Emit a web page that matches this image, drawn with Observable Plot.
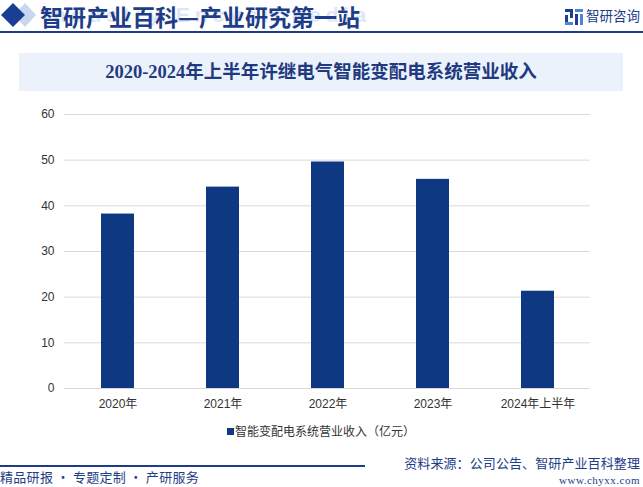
<!DOCTYPE html>
<html>
<head>
<meta charset="utf-8">
<script src="https://cdn.jsdelivr.net/npm/d3@7"></script>
<script src="https://cdn.jsdelivr.net/npm/@observablehq/plot@0.6"></script>
<style>
  html, body { margin: 0; padding: 0; background: #fff; }
  #page { position: relative; width: 643px; height: 487px; overflow: hidden; background: #fff;
          font-family: "Liberation Sans", Arial, "Noto Sans CJK SC", sans-serif; }
  .abs { position: absolute; white-space: nowrap; }
</style>
</head>
<body>
<div id="page">
  <!-- header -->
  <svg class="abs" style="left:0;top:0" width="40" height="32">
    <polygon points="25,3 36,15 25,27 14,15" fill="#c9d6ef"/>
    <polygon points="13,3 25,15 13,27 1,15" fill="#1a3f92"/>
  </svg>
  <div class="abs" style="left:42px;top:3px;font:bold 21px 'Liberation Sans',Arial,sans-serif;color:#dde7f7;letter-spacing:5px;">industry Encyclopedia</div>
  <div class="abs" style="left:40px;top:0px;font-family:'Noto Sans CJK SC';font-weight:bold;font-size:23px;line-height:32px;color:#1d3d88;">智研产业百科—产业研究第一站</div>
  <svg class="abs" style="left:565px;top:9px" width="19" height="16">
    <rect x="0" y="0" width="8" height="3" fill="#1a3f92"/>
    <rect x="5" y="0" width="3" height="9" fill="#1a3f92"/>
    <rect x="0" y="6" width="3" height="10" fill="#1a3f92"/>
    <rect x="0" y="13" width="8" height="3" fill="#4d86d6"/>
    <rect x="10" y="0" width="8" height="3" fill="#4d86d6"/>
    <rect x="10" y="5" width="3" height="11" fill="#1a3f92"/>
    <rect x="15" y="5" width="3" height="11" fill="#4d86d6"/>
  </svg>
  <div class="abs" style="left:586px;top:6px;font-family:'Noto Sans CJK SC';font-size:13.5px;line-height:18px;color:#1d3d88;">智研咨询</div>
  <div class="abs" style="left:0;top:31px;width:643px;height:2px;background:#1d3d88;"></div>

  <!-- title box -->
  <div class="abs" style="left:19px;top:53px;width:604px;height:38px;background:#ebf2fc;"></div>
  <div class="abs" style="left:19px;top:53px;width:604px;height:38px;line-height:38px;text-align:center;font-family:'Liberation Serif','Noto Sans CJK SC',serif;font-weight:bold;font-size:18.5px;color:#1f3a80;">2020-2024年上半年许继电气智能变配电系统营业收入</div>

  <div id="chart" class="abs" style="left:0;top:100px;"></div>

  <!-- legend -->
  <div class="abs" style="left:227px;top:428px;width:7px;height:7px;background:#0e3882;"></div>
  <div class="abs" id="legendText" style="left:235px;top:422px;font-size:12px;line-height:18px;color:#333;font-family:'Noto Sans CJK SC';"></div>

  <!-- footer -->
  <div class="abs" style="right:3px;top:454px;font-family:'Noto Sans CJK SC';font-size:13px;line-height:18px;letter-spacing:0.1px;color:#1d3d88;">资料来源：公司公告、智研产业百科整理</div>
  <div class="abs" style="left:0;top:465px;width:365px;height:1.5px;background:#1d3d88;"></div>
  <div class="abs" style="left:0;top:468px;font-family:'Noto Sans CJK SC';font-size:13px;line-height:18px;letter-spacing:0.3px;color:#1d3d88;">精品研报 · 专题定制 · 产研服务</div>
  <div class="abs" style="right:3px;top:474px;font-family:'Liberation Serif',serif;font-size:11px;line-height:13px;letter-spacing:0.5px;color:#1d3d88;">www.chyxx.com</div>
</div>
<script>
const categories = ["2020年", "2021年", "2022年", "2023年", "2024年上半年"];
const revenue = [38.2, 44.1, 49.6, 45.8, 21.3];
const yTicks = [0, 10, 20, 30, 40, 50, 60];
const seriesName = "智能变配电系统营业收入（亿元）";

document.getElementById("legendText").textContent = seriesName;

const data = categories.map((c, i) => ({ category: c, value: revenue[i] }));

const chart = Plot.plot({
  width: 643,
  height: 320,
  marginTop: 14,
  marginBottom: 32,
  marginLeft: 64,
  marginRight: 53,
  style: { fontFamily: "'Liberation Sans', Arial, 'Noto Sans CJK SC', sans-serif", fontSize: "12px", color: "#333", background: "transparent" },
  x: { domain: categories, paddingInner: 0.686, paddingOuter: 0.343, label: null },
  y: { domain: [0, 60], label: null },
  marks: [
    Plot.ruleY(yTicks, { stroke: "#d9d9d9", strokeWidth: 1 }),
    Plot.barY(data, { x: "category", y: "value", fill: "#0e3882" }),
    Plot.axisY({ ticks: yTicks, tickSize: 0, tickPadding: 10, label: null, fontSize: 12 }),
    Plot.axisX({ tickSize: 0, tickPadding: 11, label: null, fontSize: 12, fontFamily: "'Liberation Sans', Arial, 'Noto Sans CJK SC', sans-serif" })
  ]
});
document.getElementById("chart").appendChild(chart);
</script>
</body>
</html>
